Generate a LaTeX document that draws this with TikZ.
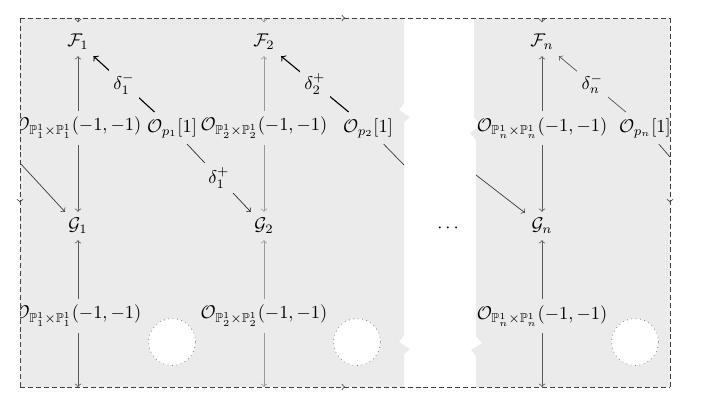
\documentclass[tikz,border=0pt]{standalone}
\usepackage{amssymb}
\usetikzlibrary{decorations.markings}
\definecolor{bgc}{HTML}{EBEBEB}
\begin{document}
\begin{tikzpicture}[x=0.5435pt,y=-0.5435pt,
  obj/.style={inner sep=3.33pt},
  lbl/.style={fill=bgc, inner sep=2.5pt},
  arr/.style={->, draw=black!65},
  larr/.style={->, draw=black!40},
  darr/.style={->, draw=black, line width=0.6pt},
  warr/.style={draw=black!75},
  hole/.style={circle, draw=black!55, dotted, fill=white, minimum size=25.5pt, inner sep=0pt},
  frameside/.style={draw=black!75, dash pattern=on 2.7pt off 1.6pt, postaction={decorate},
    decoration={markings, mark=at position 0.5 with {\arrow[solid]{to}}}},
]
\useasboundingbox (0,0) rectangle (704,408);
% gray sheets
\fill[bgc] (20,18) -- (404,18) -- (404,103) -- (399,110) -- (410,117) -- (404,122)
  -- (404,335) -- (399,342) -- (410,349) -- (404,354) -- (404,387) -- (20,387) -- cycle;
\fill[bgc] (474,18) -- (670,18) -- (670,387) -- (476,387) -- (476,356) -- (471,350)
  -- (482,343) -- (476,336) -- (476,140) -- (470,133) -- (481,125) -- (474,118) -- cycle;

\coordinate (tl) at (20,18);
\coordinate (tr) at (670,18);
\coordinate (bl) at (20,387);
\coordinate (br) at (670,387);

\begin{scope}
\clip (20,18) rectangle (670,387);
% nodes
\node[obj] (F1) at (78,42) {$\mathcal{F}_1$};
\node[obj] (F2) at (264,42) {$\mathcal{F}_2$};
\node[obj] (Fn) at (542,42) {$\mathcal{F}_n$};

\node[obj] (OA1) at (78,128) {$\mathcal{O}_{\mathbb{P}^1_1\times\mathbb{P}^1_1}(-1,-1)$};
\node[obj] (Op1) at (172,128) {$\mathcal{O}_{p_1}[1]$};
\node[obj] (OA2) at (264,128) {$\mathcal{O}_{\mathbb{P}^1_2\times\mathbb{P}^1_2}(-1,-1)$};
\node[obj] (Op2) at (368,128) {$\mathcal{O}_{p_2}[1]$};
\node[obj] (OAn) at (542,128) {$\mathcal{O}_{\mathbb{P}^1_n\times\mathbb{P}^1_n}(-1,-1)$};
\node[obj] (Opn) at (645,128) {$\mathcal{O}_{p_n}[1]$};

\node[obj] (G1) at (78,226) {$\mathcal{G}_1$};
\node[obj] (G2) at (264,226) {$\mathcal{G}_2$};
\node[obj] (Gn) at (542,226) {$\mathcal{G}_n$};
\node (dots) at (448,228) {$\cdots$};

\node[obj] (OB1) at (78,316) {$\mathcal{O}_{\mathbb{P}^1_1\times\mathbb{P}^1_1}(-1,-1)$};
\node[obj] (OB2) at (264,316) {$\mathcal{O}_{\mathbb{P}^1_2\times\mathbb{P}^1_2}(-1,-1)$};
\node[obj] (OBn) at (542,316) {$\mathcal{O}_{\mathbb{P}^1_n\times\mathbb{P}^1_n}(-1,-1)$};

\node[hole] (h1) at (172,342) {};
\node[hole] (h2) at (357,342) {};
\node[hole] (hn) at (635,342) {};

% edge coordinates
\coordinate (t1) at (78,18);  \coordinate (b1) at (78,387);
\coordinate (t2) at (264,18); \coordinate (b2) at (264,387);
\coordinate (tn) at (542,18); \coordinate (bn) at (542,387);
\coordinate (cutA) at (404,165);
\coordinate (cutB) at (476,175);
\coordinate (cutR) at (670,157);
\coordinate (cutL) at (20,163);

% column 1
\draw[arr, shorten >=3pt] (t1) -- (F1);
\draw[arr] (OA1) -- (F1);
\draw[arr] (OA1) -- (G1);
\draw[arr] (OB1) -- (G1);
\draw[arr] (OB1) -- (b1);
\draw[darr] (Op1) -- node[lbl] {$\delta_1^-$} (F1);
\draw[->, draw=black!80] (Op1) -- node[lbl] {$\delta_1^+$} (G2);
% column 2
\draw[larr, shorten >=3pt] (t2) -- (F2);
\draw[larr] (OA2) -- (F2);
\draw[larr] (OA2) -- (G2);
\draw[larr] (OB2) -- (G2);
\draw[larr] (OB2) -- (b2);
\draw[darr] (Op2) -- node[lbl] {$\delta_2^+$} (F2);
\draw[warr] (Op2) -- (cutA);
% column n
\draw[arr, shorten >=3pt] (tn) -- (Fn);
\draw[arr] (OAn) -- (Fn);
\draw[arr] (OAn) -- (Gn);
\draw[arr] (OBn) -- (Gn);
\draw[arr] (OBn) -- (bn);
\draw[->, draw=black!65] (Opn) -- node[lbl] {$\delta_n^-$} (Fn);
\draw[->, draw=black!75] (cutB) -- (Gn);
\draw[warr] (Opn) -- (cutR);
\draw[->, draw=black!75] (cutL) -- (G1);
\end{scope}

% identification frame
\draw[frameside] (tl) -- (tr);
\draw[frameside] (bl) -- (br);
\draw[frameside] (tl) -- (bl);
\draw[frameside] (tr) -- (br);
\end{tikzpicture}
\end{document}
